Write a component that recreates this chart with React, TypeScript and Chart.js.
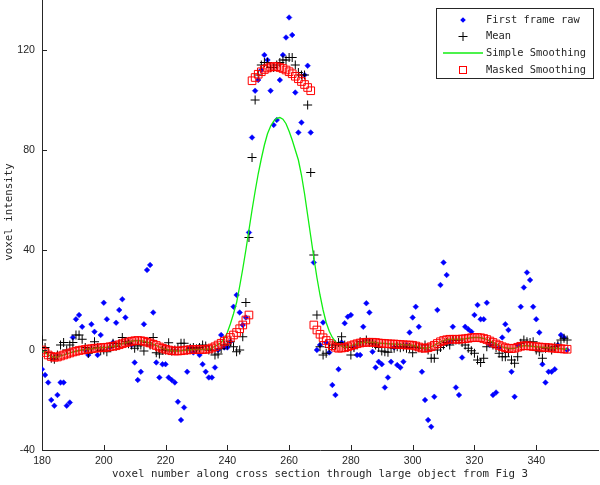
import React, { useEffect, useRef } from 'react';
import { Chart, registerables } from 'chart.js';

Chart.register(...registerables);

// voxel numbers run consecutively from 180 to 350
const voxelStart = 180;

const firstFrameRaw = [
  -7.7, -10, -13, -20, -22.3, -18, -13, -13, -22.3, -21,
  5, 12.3, 14, 9.3, 0, -2, 10.3, 7.3, -2, 6,
  18.9, 12.3, 1, 3, 10.9, 16, 20.3, 13, 3, 2,
  -5, -12, -8.7, 10.3, 32, 34, 15, -5, -11, -5.7,
  -5.7, -11, -12, -13, -20.7, -28, -23, -8.7, 1, -1,
  0.5, -2, -5.7, -8.7, -11, -11, -7, 0, 6, 1,
  1, 3.3, 17.3, 22, 15, 10, 13, 47, 85, 103.7,
  108, 112, 118, 116, 103.7, 90, 92, 108, 118, 125,
  133, 126, 103, 87, 91, 110, 113.7, 87, 35, 0,
  2, 11, 3, -1, -14, -18, -7.7, 3, 10.7, 13.3,
  14, 1, -2, -2, 9.3, 18.7, 15, -0.7, -7, -4.7,
  -5.7, -15, -11, -4.7, 1, -6, -7, -4.7, 2, 7,
  13, 17.3, 9.3, -8.7, -20, -28, -30.7, -18.7, 16, 26,
  35, 30, 3, 9.3, -15, -18, -3, 9.3, 8.3, 7.3,
  14, 18, 12.3, 12.3, 18.9, 2, -18, -17, 1, 5,
  10.3, 8, -8.7, -18.7, 2, 17.3, 25, 31, 28, 17.3,
  12.3, 7, -5.7, -13, -8.7, -8.7, -7.7, 2, 6, 5,
  0,
];

const meanValues = [
  4, 1, -1, -3.3, -3.7, -2, 2, 3, 0, 2,
  3, 6, 6, 4.3, 1, -1.3, 0.5, 3.3, 1, -0.3,
  0, -0.7, 1, 2.7, 1.5, 2.5, 5, 3.3, 2.5, 2,
  0.7, 1.6, 2, -0.4, 3, 2, 5, -1.1, -1.6, 0,
  0, 2.9, -0.4, 0, 1, 2.7, 2.7, 0, 0.7, 1,
  0.5, 1, 2, 1.6, 0, 0, -2, -1.6, 0.5, 2,
  2, 3.3, 1.3, -0.7, 0, 5.3, 19, 45, 77, 100,
  110, 114, 115, 115, 113, 113, 114, 115, 116, 116,
  117, 117, 114, 111, 110, 110, 98, 71, 38, 14,
  1.3, -2, -1.3, 1, 2, 2, 3, 5.3, 2, 1,
  -2, 1, 2, 3.3, 3, 4, 3, 2.7, 2, 1,
  -0.4, -0.7, -0.9, 1, 0.7, 1.3, 0.9, 1.3, 0.7, 1,
  -1.1, 1.3, 1, 0.7, 2, 0, -3.3, -3.3, 0, 1,
  2, 3, 2, 4, 4, 4, 3, 2, 0.7, -0.3,
  -1.3, -4, -5, -3.3, 1.3, 3, 2, 1, -1.3, -2.7,
  -2.7, -1, -4, -5.3, -2.7, 2.7, 4, 3.3, 3, 3.3,
  0, -0.7, -3.3, 0.7, 1, 0, 1.3, 2, 4, 4.7,
  4,
];

const simpleSmoothing = [
  0, -1, -2, -2.6, -2.9, -2.8, -2.4, -2, -1.6, -1.2,
  -0.8, -0.5, -0.2, 0, 0.2, 0.4, 0.5, 0.7, 0.8, 0.9,
  1, 1.1, 1.3, 1.5, 1.7, 2.1, 2.5, 2.9, 3.2, 3.5,
  3.7, 3.8, 3.7, 3.5, 3.1, 2.8, 2.3, 1.8, 1.2, 0.7,
  0.3, 0, -0.3, -0.4, -0.4, -0.3, -0.1, 0, 0.1, 0.2,
  0.2, 0.2, 0.2, 0.3, 0.4, 0.8, 1.5, 2.2, 3, 4.5,
  7, 10.5, 14.5, 19, 25.5, 32.5, 40, 48, 56, 63.5,
  70.5, 76.5, 82, 86.5, 89.5, 91.5, 92.7, 93, 92.3, 90.5,
  87.5, 84, 80, 76, 70, 62.5, 54, 45.5, 37, 29,
  22, 16, 11, 7.5, 5, 3.3, 2.2, 1.5, 1, 1.3,
  1.7, 2.1, 2.5, 2.8, 3, 3.1, 3.1, 3.1, 3, 2.8,
  2.7, 2.6, 2.5, 2.4, 2.4, 2.3, 2.2, 2.1, 2, 2,
  1.9, 1.6, 1.2, 0.8, 0.7, 0.9, 1.3, 1.9, 2.6, 3.3,
  3.8, 4.1, 4.3, 4.3, 4.3, 4.3, 4.4, 4.5, 4.7, 4.9,
  5, 5, 4.9, 4.6, 4.2, 3.6, 3, 2.4, 1.8, 1.3,
  0.9, 0.7, 0.6, 0.7, 1.1, 1.5, 1.7, 1.7, 1.6, 1.4,
  1.3, 1.2, 1.1, 1, 0.9, 0.8, 0.7, 0.6, 0.5, 0.4,
  0.3,
];

const maskedSmoothing = [
  0, -1, -2, -2.6, -2.9, -2.8, -2.4, -2, -1.6, -1.2,
  -0.8, -0.5, -0.2, 0, 0.2, 0.4, 0.5, 0.7, 0.8, 0.9,
  1, 1.1, 1.3, 1.5, 1.7, 2.1, 2.5, 2.9, 3.2, 3.5,
  3.7, 3.8, 3.7, 3.5, 3.1, 2.8, 2.3, 1.8, 1.2, 0.7,
  0.3, 0, -0.3, -0.4, -0.4, -0.3, -0.1, 0, 0.1, 0.2,
  0.2, 0.2, 0.2, 0.3, 0.4, 0.8, 1.3, 2, 2.7, 3.4,
  4, 5, 6, 7, 8.5, 10, 12, 14, 107.7, 109,
  110.3, 111.3, 112.2, 112.8, 113.2, 113.4, 113.3, 113, 112.6, 112,
  111.3, 110.5, 109.5, 108.5, 107.4, 106.2, 105, 103.7, 10, 8,
  6.3, 4.9, 3.8, 2.6, 1.7, 1.1, 0.7, 0.8, 1, 1.3,
  1.7, 2.1, 2.5, 2.8, 3, 3.1, 3.1, 3.1, 3, 2.8,
  2.7, 2.6, 2.5, 2.4, 2.4, 2.3, 2.2, 2.1, 2, 2,
  1.9, 1.6, 1.2, 0.8, 0.7, 0.9, 1.3, 1.9, 2.6, 3.3,
  3.8, 4.1, 4.3, 4.3, 4.3, 4.3, 4.4, 4.5, 4.7, 4.9,
  5, 5, 4.9, 4.6, 4.2, 3.6, 3, 2.4, 1.8, 1.3,
  0.9, 0.7, 0.6, 0.7, 1.1, 1.5, 1.7, 1.7, 1.6, 1.4,
  1.3, 1.2, 1.1, 1, 0.9, 0.8, 0.7, 0.6, 0.5, 0.4,
  0.3,
];

const xTicks = [180, 200, 220, 240, 260, 280, 300, 320, 340];
const yTicks = [-40, 0, 40, 80, 120];
const xMin = 180;
const xMax = 360;
const yMin = -40;
const yMax = 140;

const seriesLabels = ['First frame raw', 'Mean', 'Simple Smoothing', 'Masked Smoothing'];
const xTitle = 'voxel number along cross section through large object from Fig 3';
const yTitle = 'voxel intensity';

const BLUE = '#0000ff';
const GREEN = '#11ee11';
const RED = '#ff0000';
const INK = '#262626';
const MONO = "'DejaVu Sans Mono', 'Liberation Mono', monospace";
const SANS = "'Liberation Sans', Arial, sans-serif";

const toPoints = (arr: number[]) => arr.map((y, i) => ({ x: voxelStart + i, y }));

const decorPlugin = {
  id: 'matlabDecor',
  afterDraw(chart: any) {
    const { ctx, chartArea, scales } = chart;
    const xs = scales.x;
    const ys = scales.y;
    ctx.save();
    // inward tick marks
    ctx.strokeStyle = INK;
    ctx.lineWidth = 1;
    ctx.beginPath();
    yTicks.forEach((v) => {
      const py = Math.round(ys.getPixelForValue(v)) + 0.5;
      ctx.moveTo(chartArea.left, py);
      ctx.lineTo(chartArea.left + 5, py);
    });
    xTicks.forEach((v) => {
      const px = Math.round(xs.getPixelForValue(v)) + 0.5;
      ctx.moveTo(px, chartArea.bottom);
      ctx.lineTo(px, chartArea.bottom - 5);
    });
    ctx.stroke();

    // y axis title
    ctx.save();
    ctx.translate(9, 212);
    ctx.rotate(-Math.PI / 2);
    ctx.font = `10.8px ${MONO}`;
    ctx.fillStyle = INK;
    ctx.textAlign = 'center';
    ctx.textBaseline = 'middle';
    ctx.fillText(yTitle, 0, 0);
    ctx.restore();

    // legend
    const bx = 436, by = 8, bw = 157, bh = 70;
    ctx.fillStyle = '#ffffff';
    ctx.fillRect(bx, by, bw, bh);
    ctx.strokeStyle = INK;
    ctx.lineWidth = 1;
    ctx.strokeRect(bx + 0.5, by + 0.5, bw, bh);
    const rows = [20, 36.5, 53, 70];
    const mx = 463;
    ctx.font = `10.4px ${MONO}`;
    ctx.fillStyle = INK;
    ctx.textAlign = 'left';
    ctx.textBaseline = 'middle';
    seriesLabels.forEach((t, i) => ctx.fillText(t, 486, rows[i]));
    // markers
    ctx.fillStyle = BLUE;
    ctx.beginPath();
    ctx.moveTo(mx, rows[0] - 2.8);
    ctx.lineTo(mx + 2.8, rows[0]);
    ctx.lineTo(mx, rows[0] + 2.8);
    ctx.lineTo(mx - 2.8, rows[0]);
    ctx.closePath();
    ctx.fill();
    ctx.strokeStyle = '#000';
    ctx.beginPath();
    ctx.moveTo(mx - 4.5, rows[1]);
    ctx.lineTo(mx + 4.5, rows[1]);
    ctx.moveTo(mx, rows[1] - 4.5);
    ctx.lineTo(mx, rows[1] + 4.5);
    ctx.stroke();
    ctx.strokeStyle = GREEN;
    ctx.lineWidth = 1.3;
    ctx.beginPath();
    ctx.moveTo(443, rows[2]);
    ctx.lineTo(483, rows[2]);
    ctx.stroke();
    ctx.strokeStyle = RED;
    ctx.lineWidth = 1;
    ctx.strokeRect(mx - 3.5, rows[3] - 3.5, 7, 7);
    ctx.restore();
  },
};

export default function App() {
  const canvasRef = useRef<HTMLCanvasElement | null>(null);

  useEffect(() => {
    document.body.style.margin = '0';
    const canvas = canvasRef.current;
    if (!canvas) return;
    const chart = new Chart(canvas, {
      type: 'scatter',
      data: {
        datasets: [
          {
            label: seriesLabels[0],
            data: toPoints(firstFrameRaw),
            pointStyle: 'rectRot',
            pointRadius: 2.8,
            backgroundColor: BLUE,
            borderColor: BLUE,
            borderWidth: 0.5,
            order: 4,
          },
          {
            label: seriesLabels[1],
            data: toPoints(meanValues),
            pointStyle: 'cross',
            pointRadius: 4.5,
            borderColor: '#000000',
            backgroundColor: '#000000',
            borderWidth: 1,
            order: 3,
          },
          {
            label: seriesLabels[2],
            data: toPoints(simpleSmoothing),
            showLine: true,
            pointRadius: 0,
            borderColor: GREEN,
            backgroundColor: GREEN,
            borderWidth: 1.3,
            tension: 0,
            order: 2,
          },
          {
            label: seriesLabels[3],
            data: toPoints(maskedSmoothing),
            pointStyle: 'rect',
            pointRadius: 5.4,
            borderColor: RED,
            backgroundColor: 'rgba(0,0,0,0)',
            borderWidth: 1,
            order: 1,
          },
        ],
      },
      options: {
        responsive: false,
        animation: false,
        devicePixelRatio: 1,
        layout: { autoPadding: false, padding: { left: 0, right: 2, top: 0, bottom: 0 } },
        plugins: { legend: { display: false }, tooltip: { enabled: false } },
        scales: {
          x: {
            type: 'linear',
            min: xMin,
            max: xMax,
            afterBuildTicks: (s: any) => {
              s.ticks = xTicks.map((v) => ({ value: v }));
            },
            afterFit: (s: any) => {
              s.height = 35;
              s.paddingLeft = 0;
              s.paddingRight = 0;
            },
            grid: { display: false, drawTicks: false, tickLength: 0 },
            border: { display: true, color: INK, width: 1 },
            ticks: {
              autoSkip: false,
              maxRotation: 0,
              padding: 5,
              color: INK,
              font: { family: SANS, size: 10.6 },
            },
            title: {
              display: true,
              text: xTitle,
              color: INK,
              font: { family: MONO, size: 10.8 },
              padding: { top: 0, bottom: 4.5 },
            },
          },
          y: {
            type: 'linear',
            min: yMin,
            max: yMax,
            afterBuildTicks: (s: any) => {
              s.ticks = yTicks.map((v) => ({ value: v }));
            },
            afterFit: (s: any) => {
              s.width = 42;
              s.paddingTop = 0;
              s.paddingBottom = 0;
            },
            grid: { display: false, drawTicks: false, tickLength: 0 },
            border: { display: true, color: INK, width: 1 },
            ticks: {
              padding: 7,
              color: INK,
              font: { family: SANS, size: 10.6 },
            },
          },
        },
      },
      plugins: [decorPlugin],
    } as any);
    return () => chart.destroy();
  }, []);

  return (
    <div style={{ position: 'absolute', left: 0, top: 0, width: 600, height: 485, background: '#fff' }}>
      <canvas ref={canvasRef} width={600} height={485} style={{ display: 'block' }} />
    </div>
  );
}
